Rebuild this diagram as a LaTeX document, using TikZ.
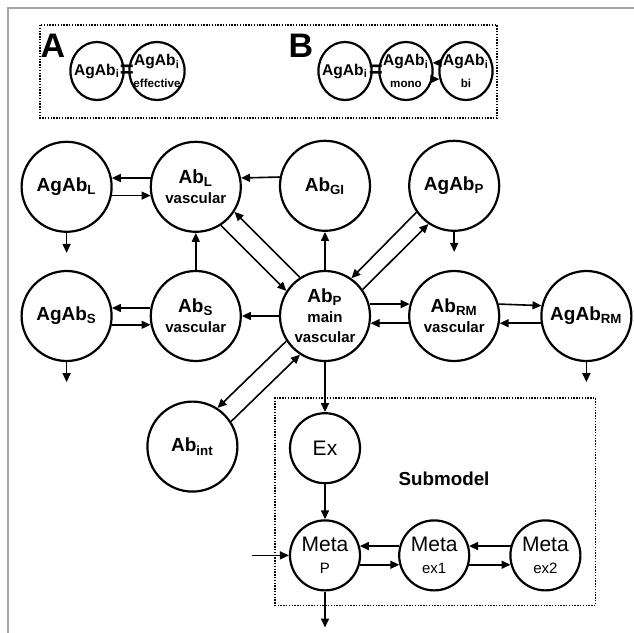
\documentclass[tikz,border=0pt]{standalone}
\usepackage{fontspec}
\setmainfont{Liberation Sans}
\usetikzlibrary{arrows.meta, positioning, fit, shapes.geometric}
\newcommand{\smalltext}{\fontsize{7.5}{8.5}\selectfont}
\newcommand{\tinytext}{\fontsize{5.8}{6.5}\selectfont}

\begin{document}
\begin{tikzpicture}[
        x=0.5pt, y=-0.5pt,
        node distance=18.5pt and 18.5pt,
        pool_node/.style={circle, draw, line width=1.1pt, minimum size=45pt, inner sep=0pt, align=center, font=\bfseries\fontsize{9.5}{10}\selectfont},
        eq_node/.style={ellipse, draw, line width=1.1pt, minimum width=26pt, minimum height=29pt, inner xsep=-2pt, inner ysep=0pt, align=center, font=\bfseries\fontsize{7.8}{9.5}\selectfont},
        sub_node/.style={circle, draw, line width=1.1pt, minimum size=35pt, inner sep=0pt, align=center, font=\fontsize{10.5}{11}\selectfont},
        panel_label/.style={font=\bfseries\fontsize{17}{17}\selectfont, inner sep=0pt},
        eq_sign/.style={font=\bfseries\fontsize{12}{12}\selectfont, inner sep=0pt},
        group_box/.style={draw, line width=0.7pt, dash pattern=on 0.7pt off 0.7pt},
        arrow/.style={-{Triangle[length=4.5pt, width=4pt]}, line width=0.8pt}
    ]
    \useasboundingbox (0,0) rectangle (634,633);

    % Frame
    \draw[gray!70, line width=1pt] (8,633) -- (8,8) -- (634,8);

    % Panel A and B
    \draw[group_box] (40,25) rectangle (497,118);
    \node[panel_label] (labA) at (53,46) {A};
    \node[eq_node] (agi) at (97,71) {AgAb\textsubscript{i}};
    \node[eq_sign] (eqA) at (127,71) {=};
    \node[eq_node] (agieff) at (157,71) {AgAb\textsubscript{i}\\[1.5pt]{\tinytext effective}};
    \node[panel_label] (labB) at (301,46) {B};
    \node[eq_node] (agib) at (345,71) {AgAb\textsubscript{i}};
    \node[eq_sign] (eqB) at (376,71) {=};
    \node[eq_node] (mono) at (406,71) {AgAb\textsubscript{i}\\[1.5pt]{\tinytext mono}};
    \node[eq_node] (bi) at (466,71) {AgAb\textsubscript{i}\\[1.5pt]{\tinytext bi}};
    \draw[arrow] (bi.163) -- (mono.17);
    \draw[arrow] (mono.-17) -- (bi.197);

    % Main compartments
    \node[pool_node] (abp) at (325,316) {Ab\textsubscript{P}\\{\smalltext main}\\{\smalltext vascular}};
    \node[pool_node, left=of abp] (abs) {Ab\textsubscript{S}\\{\smalltext vascular}};
    \node[pool_node, left=of abs] (ags) {AgAb\textsubscript{S}};
    \node[pool_node, above=of abs] (abl) {Ab\textsubscript{L}\\{\smalltext vascular}};
    \node[pool_node, left=of abl] (agl) {AgAb\textsubscript{L}};
    \node[pool_node, above=19pt of abp] (abgi) {Ab\textsubscript{GI}};
    \node[pool_node, right=of abgi] (agp) {AgAb\textsubscript{P}};
    \node[pool_node, right=of abp] (abrm) {Ab\textsubscript{RM}\\{\smalltext vascular}};
    \node[pool_node, right=20pt of abrm] (agrm) {AgAb\textsubscript{RM}};
    \node[pool_node, below left=32.7pt and 33.7pt of abp] (abint) {Ab\textsubscript{int}};

    % Submodel
    \node[sub_node, below=25pt of abp] (ex) {Ex};
    \node[sub_node, below=17.5pt of ex] (metap) {Meta\\{\smalltext P}};
    \node[sub_node, right=of metap] (metae1) {Meta\\{\smalltext ex1}};
    \node[sub_node, right=19.5pt of metae1] (metae2) {Meta\\{\smalltext ex2}};
    \node[group_box, fit=(ex)(metap)(metae2), inner sep=7pt] (subbox) {};
    \node[font=\bfseries\fontsize{9.4}{10}\selectfont] (sublabel) at (444,479) {Submodel};

    % Free ends
    \coordinate[below=10pt of agl] (agl_out);
    \coordinate[below=10pt of ags] (ags_out);
    \coordinate[below=10pt of agp] (agp_out);
    \coordinate[below=10pt of agrm] (agrm_out);
    \coordinate[left=18.5pt of metap] (meta_in);
    \coordinate[below=18pt of metap] (meta_out);

    % Connections
    \draw[arrow] (abl.169) -- (agl.11);
    \draw[arrow] (agl.-11) -- (abl.191);
    \draw[arrow] (abgi.169) -- (abl.11);
    \draw[arrow] (abs.170) -- (ags.10);
    \draw[arrow] (ags.-11) -- (abs.191);
    \draw[arrow] (abp.west) -- (abs.east);
    \draw[arrow] (abs.north) -- (abl.south);
    \draw[arrow] (abp.north) -- (abgi.south);
    \draw[arrow] (abp.15) -- (abrm.165);
    \draw[arrow] (abrm.189) -- (abp.-9);
    \draw[arrow] (abrm.15) -- (agrm.167);
    \draw[arrow] (agrm.189) -- (abrm.-9);

    % Diagonal exchanges
    \draw[arrow] (abl.-57) -- (abp.147);
    \draw[arrow] (abp.123) -- (abl.-33);
    \draw[arrow] (agp.215) -- (abp.55);
    \draw[arrow] (abp.35) -- (agp.236);
    \draw[arrow] (abp.213) -- (abint.57);
    \draw[arrow] (abint.33) -- (abp.237);

    % Elimination
    \draw[arrow] (agl.south) -- (agl_out);
    \draw[arrow] (ags.south) -- (ags_out);
    \draw[arrow] (agp.south) -- (agp_out);
    \draw[arrow] (agrm.south) -- (agrm_out);

    % Submodel links
    \draw[arrow] (abp.south) -- (ex.north);
    \draw[arrow] (ex.south) -- (metap.north);
    \draw[arrow] (meta_in) -- (metap.west);
    \draw[arrow] (metap.south) -- (meta_out);
    \draw[arrow] (metae1.165) -- (metap.15);
    \draw[arrow] (metap.-15) -- (metae1.195);
    \draw[arrow] (metae2.165) -- (metae1.15);
    \draw[arrow] (metae1.-15) -- (metae2.195);

    \end{tikzpicture}
\end{document}
